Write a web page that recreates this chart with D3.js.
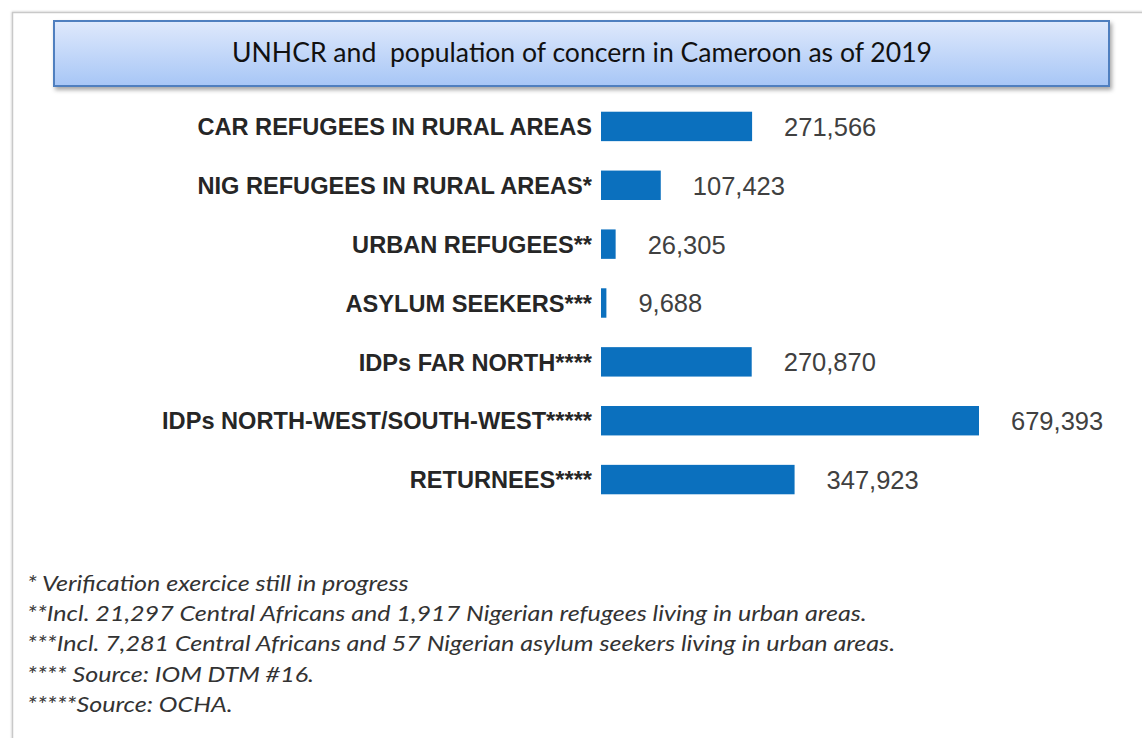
<!DOCTYPE html>
<html>
<head>
<meta charset="utf-8">
<script src="https://cdn.jsdelivr.net/npm/d3@7"></script>
<style>
  html, body { margin: 0; padding: 0; background: #ffffff; }
  svg { display: block; }
</style>
</head>
<body>
<svg id="chart" width="1142" height="738"></svg>
<script>
// Population of concern categories and counts
const categories = [
  "CAR REFUGEES IN RURAL AREAS",
  "NIG REFUGEES IN RURAL AREAS*",
  "URBAN REFUGEES**",
  "ASYLUM SEEKERS***",
  "IDPs FAR NORTH****",
  "IDPs NORTH-WEST/SOUTH-WEST*****",
  "RETURNEES****"
];
const values = [271566, 107423, 26305, 9688, 270870, 679393, 347923];

const titleText = "UNHCR and  population of concern in Cameroon as of 2019";

const footnotes = [
  "* Verification exercice still in progress",
  "**Incl. 21,297 Central Africans and 1,917 Nigerian refugees living in urban areas.",
  "***Incl. 7,281 Central Africans and 57 Nigerian asylum seekers living in urban areas.",
  "**** Source: IOM DTM #16.",
  "*****Source: OCHA."
];

const data = categories.map((c, i) => ({ category: c, value: values[i] }));

const svg = d3.select("#chart");
const defs = svg.append("defs");

// Title box gradient and drop shadow
const grad = defs.append("linearGradient")
  .attr("id", "titleGrad").attr("x1", 0).attr("y1", 0).attr("x2", 0).attr("y2", 1);
grad.append("stop").attr("offset", "0%").attr("stop-color", "#dfe9fc");
grad.append("stop").attr("offset", "100%").attr("stop-color", "#a7c6f6");

const shadow = defs.append("filter").attr("id", "boxShadow")
  .attr("x", "-5%").attr("y", "-20%").attr("width", "110%").attr("height", "150%");
shadow.append("feDropShadow")
  .attr("dx", 2).attr("dy", 3).attr("stdDeviation", 2)
  .attr("flood-color", "#000").attr("flood-opacity", 0.35);

const frameShadow = defs.append("filter").attr("id", "frameShadow")
  .attr("x", "-2%").attr("y", "-2%").attr("width", "104%").attr("height", "104%");
frameShadow.append("feDropShadow")
  .attr("dx", 0).attr("dy", 0).attr("stdDeviation", 1.2)
  .attr("flood-color", "#000").attr("flood-opacity", 0.25);

const clip = defs.append("clipPath").attr("id", "frameClip");
clip.append("rect").attr("x", 14).attr("y", 14).attr("width", 1128).attr("height", 714);

// White background
svg.append("rect").attr("width", 1142).attr("height", 738).attr("fill", "#ffffff");

// Outer page frame
svg.append("rect")
  .attr("x", 12.5).attr("y", 12.5).attr("width", 1160).attr("height", 760)
  .attr("fill", "#ffffff")
  .attr("stroke", "#c9c9c9").attr("stroke-width", 1.5)
  .attr("filter", "url(#frameShadow)");

const content = svg.append("g").attr("clip-path", "url(#frameClip)");

// Title banner
content.append("rect")
  .attr("x", 54).attr("y", 21).attr("width", 1055).attr("height", 65)
  .attr("fill", "url(#titleGrad)")
  .attr("stroke", "#4f7fbf").attr("stroke-width", 2)
  .attr("filter", "url(#boxShadow)");

content.append("text")
  .attr("x", 582).attr("y", 62)
  .attr("text-anchor", "middle")
  .attr("font-family", "Lato, 'Open Sans', sans-serif")
  .attr("font-size", 26)
  .attr("fill", "#111111")
  .attr("textLength", 700)
  .attr("lengthAdjust", "spacingAndGlyphs")
  .style("white-space", "pre")
  .text(titleText);

// Scales
const x = d3.scaleLinear()
  .domain([0, d3.max(values)])
  .range([601, 979]);

const y = d3.scaleBand()
  .domain(categories)
  .range([97, 509])
  .paddingInner(0.5)
  .paddingOuter(0.25);

// Bars
content.append("g").selectAll("rect")
  .data(data)
  .join("rect")
  .attr("x", x(0))
  .attr("y", d => y(d.category))
  .attr("width", d => x(d.value) - x(0))
  .attr("height", y.bandwidth())
  .attr("fill", "#0b70be");

// Category labels
content.append("g").selectAll("text")
  .data(data)
  .join("text")
  .attr("x", x(0) - 9)
  .attr("y", d => y(d.category) + y.bandwidth() / 2)
  .attr("dy", "0.37em")
  .attr("text-anchor", "end")
  .attr("font-family", "'Liberation Sans', Arial, sans-serif")
  .attr("font-weight", "bold")
  .attr("font-size", 23.6)
  .attr("fill", "#262626")
  .text(d => d.category);

// Value labels
const fmt = d3.format(",");
content.append("g").selectAll("text")
  .data(data)
  .join("text")
  .attr("x", d => x(d.value) + 32)
  .attr("y", d => y(d.category) + y.bandwidth() / 2)
  .attr("dy", "0.37em")
  .attr("font-family", "'Liberation Sans', Arial, sans-serif")
  .attr("font-size", 25.5)
  .attr("fill", "#404040")
  .text(d => fmt(d.value));

// Footnotes, set in italic and widened slightly
const noteY = d3.scalePoint()
  .domain(d3.range(footnotes.length))
  .range([591, 712]);

content.append("g")
  .attr("transform", "translate(27,0) scale(1.14,1)")
  .selectAll("text")
  .data(footnotes)
  .join("text")
  .attr("x", 0)
  .attr("y", (d, i) => noteY(i))
  .attr("font-family", "Lato, 'Open Sans', sans-serif")
  .attr("font-style", "italic")
  .attr("font-size", 22)
  .attr("fill", "#333333")
  .style("white-space", "pre")
  .text(d => d);
</script>
</body>
</html>
